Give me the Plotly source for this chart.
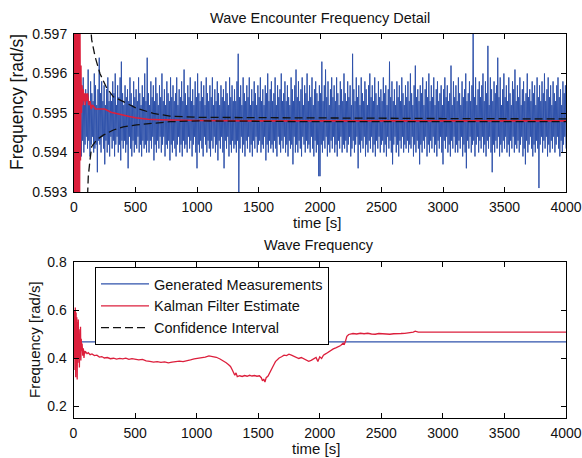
import plotly.graph_objects as go

# ---------------- data ----------------
# Top: wave encounter frequency measurements, one every 5 s
meas_t = [5 * k for k in range(1, 801)]
meas_v = [
    0.5955, 0.5940, 0.5958, 0.5942, 0.5952, 0.5938, 0.5960, 0.5944, 0.5953, 0.5941, 0.5957, 0.5939, 0.5954, 0.5943, 0.5959, 0.5940, 0.5952, 0.5942, 0.5956, 0.5944,
    0.5954, 0.5941, 0.5961, 0.5943, 0.5952, 0.5939, 0.5958, 0.5942, 0.5955, 0.5944, 0.5953, 0.5940, 0.5960, 0.5941, 0.5957, 0.5942, 0.5952, 0.5935, 0.5956, 0.5943,
    0.5964, 0.5942, 0.5955, 0.5940, 0.5958, 0.5944, 0.5953, 0.5941, 0.5957, 0.5937, 0.5952, 0.5943, 0.5956, 0.5940, 0.5959, 0.5942, 0.5953, 0.5939, 0.5955, 0.5944,
    0.5953, 0.5941, 0.5958, 0.5943, 0.5955, 0.5939, 0.5960, 0.5942, 0.5952, 0.5944, 0.5957, 0.5940, 0.5954, 0.5942, 0.5959, 0.5938, 0.5963, 0.5943, 0.5955, 0.5941,
    0.5952, 0.5943, 0.5957, 0.5940, 0.5954, 0.5942, 0.5956, 0.5936, 0.5953, 0.5944, 0.5959, 0.5941, 0.5955, 0.5939, 0.5952, 0.5943, 0.5958, 0.5940, 0.5954, 0.5942,
    0.5956, 0.5941, 0.5953, 0.5944, 0.5959, 0.5940, 0.5955, 0.5942, 0.5952, 0.5939, 0.5957, 0.5943, 0.5954, 0.5941, 0.5960, 0.5942, 0.5953, 0.5940, 0.5964, 0.5943,
    0.5955, 0.5940, 0.5952, 0.5943, 0.5958, 0.5941, 0.5954, 0.5944, 0.5957, 0.5938, 0.5953, 0.5942, 0.5959, 0.5940, 0.5955, 0.5943, 0.5952, 0.5941, 0.5957, 0.5944,
    0.5954, 0.5940, 0.5960, 0.5942, 0.5953, 0.5944, 0.5956, 0.5939, 0.5952, 0.5942, 0.5958, 0.5941, 0.5955, 0.5943, 0.5953, 0.5938, 0.5959, 0.5942, 0.5954, 0.5940,
    0.5957, 0.5943, 0.5953, 0.5941, 0.5955, 0.5939, 0.5959, 0.5942, 0.5952, 0.5944, 0.5956, 0.5940, 0.5954, 0.5942, 0.5958, 0.5939, 0.5953, 0.5943, 0.5961, 0.5941,
    0.5955, 0.5942, 0.5952, 0.5940, 0.5957, 0.5944, 0.5954, 0.5941, 0.5959, 0.5943, 0.5953, 0.5939, 0.5956, 0.5942, 0.5952, 0.5944, 0.5958, 0.5940, 0.5954, 0.5936,
    0.5960, 0.5942, 0.5955, 0.5940, 0.5953, 0.5943, 0.5958, 0.5941, 0.5954, 0.5939, 0.5957, 0.5944, 0.5952, 0.5942, 0.5959, 0.5940, 0.5955, 0.5943, 0.5953, 0.5941,
    0.5957, 0.5939, 0.5954, 0.5943, 0.5959, 0.5941, 0.5952, 0.5944, 0.5956, 0.5940, 0.5953, 0.5942, 0.5958, 0.5938, 0.5955, 0.5943, 0.5952, 0.5941, 0.5957, 0.5944,
    0.5954, 0.5940, 0.5956, 0.5936, 0.5953, 0.5943, 0.5958, 0.5941, 0.5955, 0.5944, 0.5952, 0.5939, 0.5959, 0.5942, 0.5954, 0.5940, 0.5957, 0.5943, 0.5953, 0.5941,
    0.5956, 0.5942, 0.5953, 0.5940, 0.5958, 0.5943, 0.5965, 0.5929, 0.5954, 0.5941, 0.5957, 0.5944, 0.5952, 0.5940, 0.5959, 0.5942, 0.5955, 0.5939, 0.5953, 0.5943,
    0.5957, 0.5941, 0.5954, 0.5944, 0.5959, 0.5940, 0.5952, 0.5942, 0.5956, 0.5939, 0.5953, 0.5943, 0.5958, 0.5941, 0.5955, 0.5944, 0.5952, 0.5940, 0.5957, 0.5942,
    0.5954, 0.5943, 0.5959, 0.5940, 0.5953, 0.5942, 0.5956, 0.5941, 0.5952, 0.5944, 0.5957, 0.5938, 0.5955, 0.5942, 0.5960, 0.5940, 0.5953, 0.5943, 0.5956, 0.5941,
    0.5958, 0.5942, 0.5953, 0.5940, 0.5955, 0.5943, 0.5959, 0.5941, 0.5952, 0.5939, 0.5957, 0.5944, 0.5954, 0.5942, 0.5956, 0.5940, 0.5960, 0.5943, 0.5953, 0.5941,
    0.5955, 0.5944, 0.5958, 0.5940, 0.5953, 0.5942, 0.5957, 0.5939, 0.5954, 0.5943, 0.5952, 0.5941, 0.5959, 0.5942, 0.5956, 0.5937, 0.5953, 0.5944, 0.5957, 0.5940,
    0.5961, 0.5942, 0.5954, 0.5940, 0.5958, 0.5943, 0.5953, 0.5941, 0.5956, 0.5939, 0.5959, 0.5944, 0.5952, 0.5942, 0.5957, 0.5940, 0.5955, 0.5943, 0.5960, 0.5941,
    0.5953, 0.5942, 0.5957, 0.5940, 0.5954, 0.5944, 0.5959, 0.5941, 0.5952, 0.5939, 0.5956, 0.5943, 0.5958, 0.5940, 0.5955, 0.5942, 0.5953, 0.5934, 0.5957, 0.5934,
    0.5955, 0.5942, 0.5963, 0.5940, 0.5953, 0.5943, 0.5957, 0.5941, 0.5961, 0.5944, 0.5954, 0.5939, 0.5958, 0.5942, 0.5952, 0.5940, 0.5956, 0.5943, 0.5959, 0.5941,
    0.5954, 0.5944, 0.5957, 0.5940, 0.5953, 0.5942, 0.5959, 0.5939, 0.5955, 0.5943, 0.5952, 0.5941, 0.5958, 0.5944, 0.5956, 0.5940, 0.5953, 0.5942, 0.5960, 0.5941,
    0.5955, 0.5943, 0.5953, 0.5940, 0.5958, 0.5942, 0.5954, 0.5944, 0.5957, 0.5939, 0.5952, 0.5941, 0.5965, 0.5943, 0.5956, 0.5940, 0.5953, 0.5942, 0.5959, 0.5944,
    0.5954, 0.5936, 0.5957, 0.5942, 0.5952, 0.5940, 0.5959, 0.5943, 0.5955, 0.5941, 0.5953, 0.5944, 0.5958, 0.5939, 0.5956, 0.5942, 0.5952, 0.5940, 0.5957, 0.5943,
    0.5960, 0.5941, 0.5954, 0.5944, 0.5957, 0.5940, 0.5953, 0.5942, 0.5959, 0.5939, 0.5955, 0.5943, 0.5952, 0.5941, 0.5958, 0.5944, 0.5954, 0.5940, 0.5956, 0.5942,
    0.5953, 0.5943, 0.5959, 0.5940, 0.5955, 0.5942, 0.5957, 0.5939, 0.5952, 0.5944, 0.5956, 0.5941, 0.5963, 0.5943, 0.5954, 0.5940, 0.5958, 0.5937, 0.5953, 0.5942,
    0.5956, 0.5944, 0.5952, 0.5940, 0.5958, 0.5942, 0.5954, 0.5939, 0.5957, 0.5943, 0.5953, 0.5941, 0.5959, 0.5944, 0.5955, 0.5940, 0.5952, 0.5942, 0.5957, 0.5941,
    0.5954, 0.5943, 0.5958, 0.5940, 0.5953, 0.5942, 0.5960, 0.5941, 0.5955, 0.5944, 0.5952, 0.5939, 0.5957, 0.5942, 0.5962, 0.5940, 0.5954, 0.5943, 0.5956, 0.5941,
    0.5953, 0.5937, 0.5957, 0.5942, 0.5955, 0.5940, 0.5959, 0.5943, 0.5952, 0.5941, 0.5956, 0.5944, 0.5958, 0.5939, 0.5954, 0.5942, 0.5960, 0.5940, 0.5953, 0.5943,
    0.5957, 0.5941, 0.5954, 0.5944, 0.5959, 0.5940, 0.5952, 0.5942, 0.5956, 0.5939, 0.5958, 0.5943, 0.5953, 0.5941, 0.5955, 0.5944, 0.5957, 0.5940, 0.5952, 0.5937,
    0.5956, 0.5943, 0.5959, 0.5941, 0.5954, 0.5944, 0.5957, 0.5940, 0.5953, 0.5942, 0.5955, 0.5939, 0.5962, 0.5943, 0.5952, 0.5941, 0.5958, 0.5944, 0.5954, 0.5940,
    0.5957, 0.5942, 0.5953, 0.5940, 0.5959, 0.5943, 0.5955, 0.5941, 0.5952, 0.5944, 0.5958, 0.5939, 0.5954, 0.5942, 0.5956, 0.5940, 0.5960, 0.5936, 0.5953, 0.5943,
    0.5955, 0.5941, 0.5958, 0.5944, 0.5953, 0.5940, 0.5957, 0.5942, 0.5971, 0.5943, 0.5954, 0.5939, 0.5959, 0.5942, 0.5952, 0.5944, 0.5956, 0.5940, 0.5958, 0.5943,
    0.5954, 0.5941, 0.5957, 0.5944, 0.5960, 0.5940, 0.5953, 0.5942, 0.5958, 0.5939, 0.5955, 0.5943, 0.5967, 0.5941, 0.5952, 0.5944, 0.5959, 0.5940, 0.5956, 0.5935,
    0.5953, 0.5942, 0.5958, 0.5940, 0.5955, 0.5943, 0.5957, 0.5941, 0.5964, 0.5944, 0.5954, 0.5939, 0.5959, 0.5942, 0.5952, 0.5940, 0.5956, 0.5943, 0.5960, 0.5941,
    0.5954, 0.5944, 0.5957, 0.5940, 0.5953, 0.5942, 0.5959, 0.5939, 0.5955, 0.5943, 0.5952, 0.5941, 0.5958, 0.5944, 0.5956, 0.5940, 0.5961, 0.5942, 0.5953, 0.5941,
    0.5957, 0.5943, 0.5954, 0.5940, 0.5959, 0.5942, 0.5952, 0.5944, 0.5956, 0.5939, 0.5958, 0.5941, 0.5953, 0.5937, 0.5955, 0.5943, 0.5960, 0.5940, 0.5954, 0.5942,
    0.5956, 0.5944, 0.5953, 0.5941, 0.5958, 0.5939, 0.5955, 0.5942, 0.5957, 0.5940, 0.5952, 0.5943, 0.5959, 0.5941, 0.5954, 0.5931, 0.5957, 0.5942, 0.5953, 0.5944,
    0.5958, 0.5940, 0.5955, 0.5943, 0.5960, 0.5941, 0.5953, 0.5944, 0.5956, 0.5939, 0.5959, 0.5942, 0.5954, 0.5940, 0.5957, 0.5943, 0.5952, 0.5941, 0.5958, 0.5944,
    0.5955, 0.5940, 0.5953, 0.5942, 0.5957, 0.5944, 0.5959, 0.5941, 0.5954, 0.5939, 0.5956, 0.5943, 0.5952, 0.5940, 0.5958, 0.5942, 0.5955, 0.5944, 0.5957, 0.5941,
]

# Top: Kalman filter estimate of encounter frequency
kf_top_t = [0, 4, 8, 12, 16, 20, 24, 28, 32, 36, 40, 44, 48, 52, 56, 60, 65, 70, 75, 80, 85, 90, 95, 100, 110, 120, 130, 140, 150,
            175, 200, 250, 300, 350, 400, 450, 500, 600, 700, 800, 1000, 1500, 2000, 2500, 3000, 3500, 4000]
kf_top_v = [0.5990, 0.5900, 0.5985, 0.5905, 0.5992, 0.5902, 0.5988, 0.5908, 0.5980, 0.5910, 0.5975, 0.5915, 0.5972, 0.5938, 0.5962, 0.5950,
            0.5957, 0.5952, 0.5956, 0.5953, 0.5955, 0.5952, 0.5955, 0.5953, 0.5955, 0.5952, 0.5953, 0.5951, 0.5952,
            0.5951, 0.5951, 0.5951, 0.59502, 0.59498, 0.59495, 0.59491, 0.59488, 0.59484, 0.59483, 0.59482, 0.59481, 0.5948, 0.5948, 0.5948, 0.5948, 0.5948, 0.5948]

# Top: confidence interval bounds
ci_up_t = [100, 130, 144, 171, 211, 266, 320, 401, 509, 645, 780, 1024, 1500, 2000, 3000, 4000]
ci_up_v = [0.5985, 0.5975, 0.59685, 0.59643, 0.59600, 0.59563, 0.59541, 0.59529, 0.59512, 0.59499, 0.59492, 0.59489, 0.59488, 0.59487, 0.59486, 0.59485]
ci_lo_t = [100, 116, 130, 144, 184, 238, 320, 401, 509, 645, 780, 1024, 1500, 2000, 3000, 4000]
ci_lo_v = [0.5920, 0.59339, 0.59381, 0.59415, 0.59432, 0.59444, 0.59457, 0.59465, 0.59470, 0.59474, 0.59478, 0.59480, 0.59479, 0.59478, 0.59478, 0.59478]

# Bottom: wave frequency
gen_t = [0, 4000]
gen_v = [0.467, 0.467]

kf_t = [0, 3, 6, 9, 12, 15, 18, 21, 24, 27, 30, 33, 36, 39, 42, 45, 48, 51, 54, 57, 60, 63, 66, 70, 75, 80, 85, 90, 95, 100,
        110, 120, 135, 150, 170, 190, 210, 230, 250, 275, 300, 325, 350, 375, 400, 425, 450, 475, 500, 530, 560, 590, 620, 650,
        680, 710, 740, 770, 800, 830, 860, 890, 920, 950, 980, 1010, 1040, 1070, 1100, 1130, 1160, 1190, 1220, 1240, 1260, 1275,
        1290, 1300, 1310, 1320, 1330, 1350, 1370, 1390, 1410, 1430, 1450, 1470, 1490, 1510, 1525, 1535, 1545, 1555, 1565, 1580,
        1595, 1610, 1625, 1640, 1655, 1670, 1690, 1710, 1730, 1750, 1770, 1790, 1810, 1830, 1850, 1870, 1890, 1910, 1930, 1950,
        1970, 1985, 2000, 2015, 2030, 2050, 2070, 2090, 2110, 2130, 2150, 2170, 2190, 2200, 2210, 2220, 2235, 2250, 2270, 2300,
        2330, 2360, 2390, 2420, 2450, 2480, 2510, 2540, 2570, 2600, 2630, 2660, 2690, 2720, 2740, 2760, 2775, 2790, 2800, 3000,
        3500, 4000]
kf_v = [0.45, 0.58, 0.40, 0.60, 0.35, 0.61, 0.32, 0.59, 0.42, 0.57, 0.31, 0.55, 0.38, 0.56, 0.41, 0.52, 0.36, 0.50, 0.44, 0.53,
        0.39, 0.48, 0.43, 0.46, 0.41, 0.44, 0.40, 0.43, 0.42, 0.425,
        0.418, 0.422, 0.414, 0.417, 0.410, 0.412, 0.404, 0.406, 0.400, 0.402, 0.397, 0.399, 0.395, 0.398, 0.396, 0.399, 0.394,
        0.397, 0.395, 0.392, 0.394, 0.388, 0.386, 0.383, 0.385, 0.382, 0.384, 0.380, 0.383, 0.385, 0.387, 0.385, 0.390, 0.392,
        0.396, 0.398, 0.402, 0.404, 0.409, 0.407, 0.403, 0.396, 0.388, 0.380, 0.372, 0.365, 0.350, 0.335, 0.328, 0.338, 0.322,
        0.326, 0.323, 0.327, 0.324, 0.328, 0.325, 0.327, 0.324, 0.326, 0.318, 0.305, 0.312, 0.300, 0.318, 0.325, 0.342, 0.355,
        0.370, 0.385, 0.392, 0.400, 0.405, 0.412, 0.410, 0.416, 0.412, 0.408, 0.404, 0.398, 0.402, 0.396, 0.392, 0.386, 0.390,
        0.395, 0.402, 0.385, 0.405, 0.398, 0.412, 0.418, 0.425, 0.430, 0.438, 0.442, 0.448, 0.452, 0.462, 0.458, 0.472, 0.490,
        0.498, 0.500, 0.502, 0.500, 0.503, 0.501, 0.503, 0.500, 0.499, 0.502, 0.500, 0.501, 0.499, 0.501, 0.500, 0.502, 0.503,
        0.504, 0.506, 0.508, 0.512, 0.509, 0.508, 0.508, 0.508, 0.508]

top_yticks = [0.593, 0.594, 0.595, 0.596, 0.597]
bot_yticks = [0.2, 0.4, 0.6, 0.8]
xticks = [0, 500, 1000, 1500, 2000, 2500, 3000, 3500, 4000]

# ---------------- style ----------------
W, H = 582, 458
FONT = "Liberation Sans, Arial, Helvetica, sans-serif"
BLUE = "#2f52ab"
RED = "#dc1f3c"
BLACK = "#111111"

def px(x):
    return x / W

def py(y):
    return 1 - y / H

fig = go.Figure()

fig.add_trace(go.Scatter(x=meas_t, y=meas_v, mode="lines", line=dict(color=BLUE, width=1),
                         name="Generated Measurements", showlegend=False, xaxis="x", yaxis="y"))
fig.add_trace(go.Scatter(x=kf_top_t, y=kf_top_v, mode="lines", line=dict(color=RED, width=1.6),
                         name="Kalman Filter Estimate", showlegend=False, xaxis="x", yaxis="y"))
fig.add_trace(go.Scatter(x=ci_up_t, y=ci_up_v, mode="lines", line=dict(color=BLACK, width=1.3, dash="8px,4px"),
                         name="Confidence Interval", showlegend=True, legendrank=3, xaxis="x", yaxis="y"))
fig.add_trace(go.Scatter(x=ci_lo_t, y=ci_lo_v, mode="lines", line=dict(color=BLACK, width=1.3, dash="8px,4px"),
                         name="Confidence Interval (lower)", showlegend=False, xaxis="x", yaxis="y"))

fig.add_trace(go.Scatter(x=gen_t, y=gen_v, mode="lines", line=dict(color=BLUE, width=1.3),
                         name="Generated Measurements", showlegend=True, legendrank=1, xaxis="x2", yaxis="y2"))
fig.add_trace(go.Scatter(x=kf_t, y=kf_v, mode="lines", line=dict(color=RED, width=1.3),
                         name="Kalman Filter Estimate", showlegend=True, legendrank=2, xaxis="x2", yaxis="y2"))

axis_common = dict(showline=True, linecolor="black", linewidth=1, mirror="ticks", ticks="inside",
                   ticklen=5, tickcolor="black", showgrid=False, zeroline=False, automargin=False,
                   tickfont=dict(family=FONT, size=14, color="#111111"))

fig.update_layout(
    width=W, height=H,
    margin=dict(l=0, r=0, t=0, b=0, pad=0, autoexpand=False),
    paper_bgcolor="white", plot_bgcolor="white",
    font=dict(family=FONT, size=14, color="#111111"),
    xaxis=dict(domain=[px(74), px(566)], range=[0, 4000], tickvals=xticks, anchor="y",
               ticklabelstandoff=2, **axis_common),
    yaxis=dict(domain=[py(192), py(34)], range=[0.593, 0.597], tickvals=top_yticks,
               tickformat=".3f", anchor="x", ticklabelstandoff=3, **axis_common),
    xaxis2=dict(domain=[px(73.5), px(566)], range=[0, 4000], tickvals=xticks, anchor="y2",
                ticklabelstandoff=2, **axis_common),
    yaxis2=dict(domain=[py(418), py(262)], range=[0.15, 0.8], tickvals=bot_yticks,
                tickformat=".1f", anchor="x2", ticklabelstandoff=3, **axis_common),
    legend=dict(x=px(95), y=py(267), xanchor="left", yanchor="top",
                bgcolor="white", bordercolor="black", borderwidth=1,
                font=dict(family=FONT, size=14.5, color="#111111"),
                tracegroupgap=0, itemwidth=48, traceorder="normal"),
    showlegend=True,
)

ann = [
    dict(text="Wave Encounter Frequency Detail", x=px(320), y=py(18), size=14.5, angle=0),
    dict(text="time [s]", x=px(317), y=py(222), size=15, angle=0),
    dict(text="Wave Frequency", x=px(319), y=py(245), size=14.5, angle=0),
    dict(text="time [s]", x=px(316), y=py(448), size=15, angle=0),
    dict(text="Frequency [rad/s]", x=px(17), y=py(102), size=17.5, angle=-90),
    dict(text="Frequency [rad/s]", x=px(34), y=py(340), size=15, angle=-90),
]
for a in ann:
    fig.add_annotation(text=a["text"], x=a["x"], y=a["y"], xref="paper", yref="paper",
                       xanchor="center", yanchor="middle", showarrow=False, textangle=a["angle"],
                       font=dict(family=FONT, size=a["size"], color="#111111"))

fig.write_html("out.html", config={"displayModeBar": False},
               post_script="document.body.style.margin='0px';")
